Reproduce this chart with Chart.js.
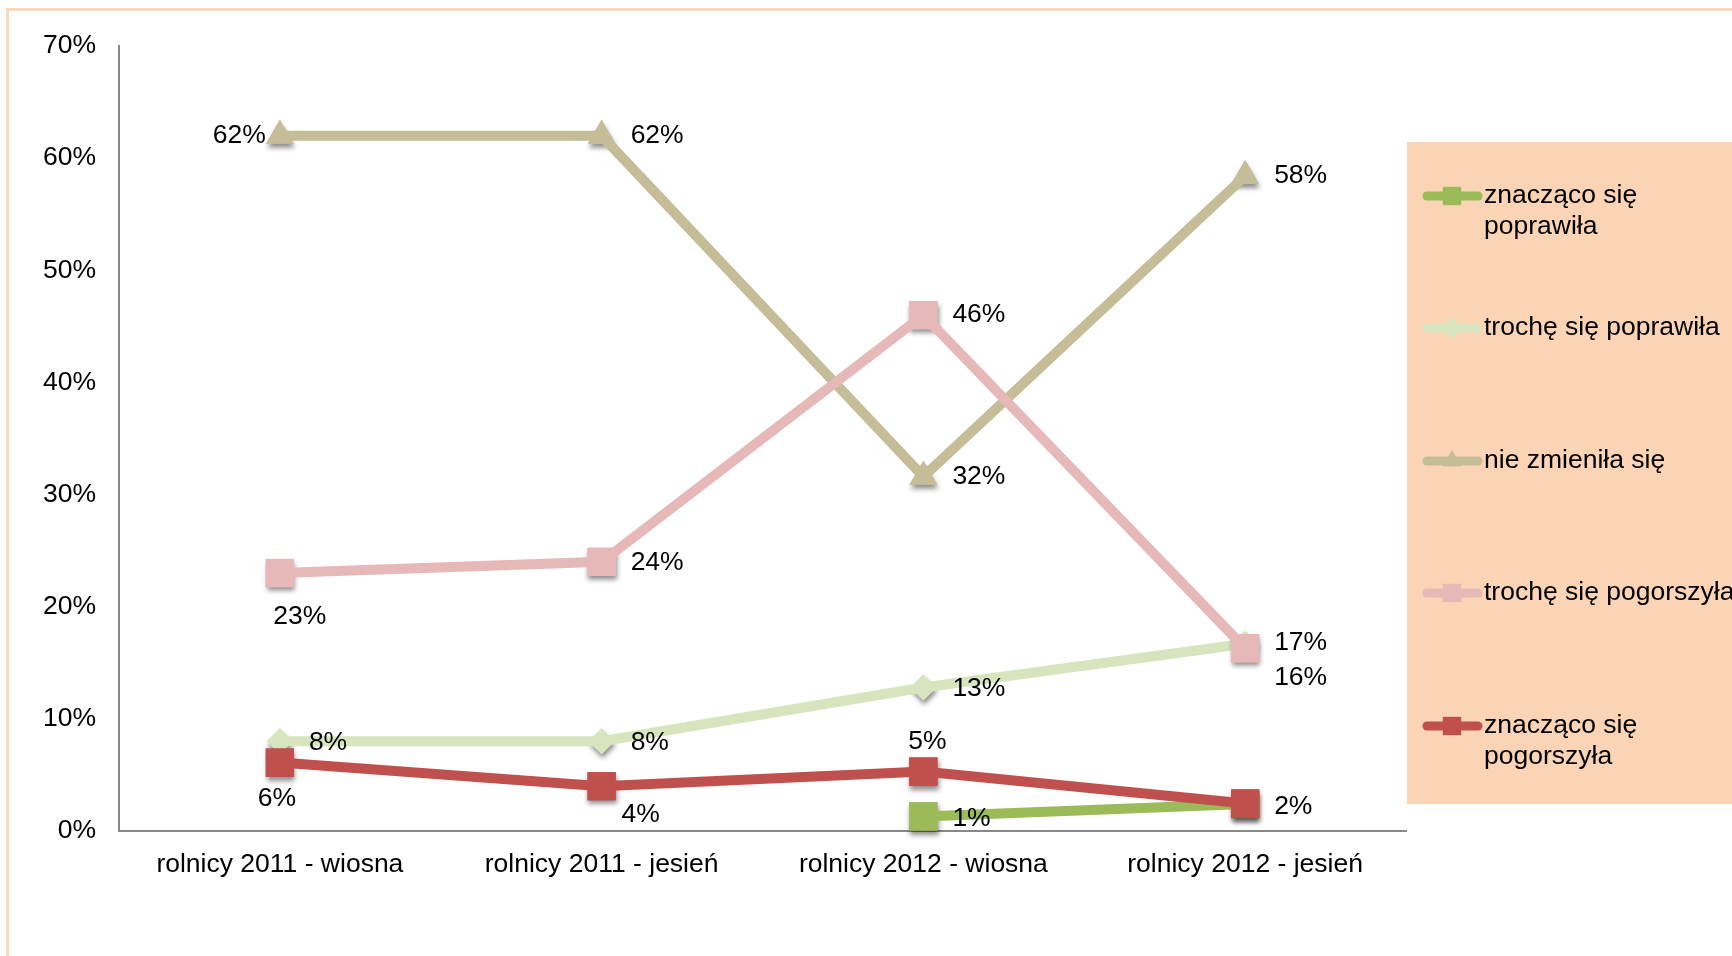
<!DOCTYPE html>
<html>
<head>
<meta charset="utf-8">
<script src="https://cdn.jsdelivr.net/npm/chart.js@4.4.0/dist/chart.umd.min.js"></script>
<style>
  html, body { margin: 0; padding: 0; background: #fff; overflow: hidden; }
  #wrap { position: relative; width: 1732px; height: 956px; }
  #frame { position: absolute; left: 6px; top: 8px; width: 1800px; height: 1000px; border: 3px solid #FCD9BC; box-sizing: border-box; }
  canvas { position: absolute; left: 0; top: 0; }
</style>
</head>
<body>
<div id="wrap">
  <div id="frame"></div>
  <canvas id="chart" width="1732" height="956"></canvas>
</div>
<script>
// Dane
var categories = ['rolnicy 2011 - wiosna', 'rolnicy 2011 - jesień', 'rolnicy 2012 - wiosna', 'rolnicy 2012 - jesień'];
var yTicks = [0, 10, 20, 30, 40, 50, 60, 70];

var seriesNames = ['znacząco się poprawiła', 'trochę się poprawiła', 'nie zmieniła się', 'trochę się pogorszyła', 'znacząco się pogorszyła'];
var znaczacoPoprawila = [null, null, 1.3, 2.4];
var trochePoprawila = [8, 8, 12.8, 16.7];
var nieZmienila = [62, 62, 31.6, 58.4];
var trochePogorszyla = [23, 24, 46, 16.3];
var znaczacoPogorszyla = [6.1, 4, 5.3, 2.45];

// Kolory i znaczniki
var colors = ['#9BBB59', '#D7E4BD', '#C4BD97', '#E6B9B8', '#C0504D'];
var markers = ['rect', 'rectRot', 'triangle', 'rect', 'rect'];
var markerSizes = [20, 13, 16, 20, 20];
var legendLines = [['znacząco się', 'poprawiła'], ['trochę się poprawiła'], ['nie zmieniła się'], ['trochę się pogorszyła'], ['znacząco się', 'pogorszyła']];

// Położenie etykiet danych: [dx, dy, wyrównanie] albo null
var labelPlacement = [
    [null, null, [29, 2, 'left'], null],
    [[29, 1, 'left'], [29, 1, 'left'], [29, 1, 'left'], [29, -1, 'left']],
    [[-14, 0, 'right'], [29, 0, 'left'], [29, 0, 'left'], [29, 0, 'left']],
    [[20, 44, 'center'], [29, 1, 'left'], [29, 0, 'left'], [29, 29, 'left']],
    [[-3, 36, 'center'], [39, 29, 'center'], [4, -30, 'center'], [29, 3, 'left']]
];

var FONT = "'Liberation Sans', Arial, sans-serif";
var FONT_SIZE = 26.5;
var seriesData = [znaczacoPoprawila, trochePoprawila, nieZmienila, trochePogorszyla, znaczacoPogorszyla];

var datasets = seriesData.map(function(values, i) {
    return {
        label: seriesNames[i],
        data: values,
        borderColor: colors[i],
        backgroundColor: colors[i],
        borderWidth: 10,
        pointStyle: markers[i],
        pointRadius: markerSizes[i],
        pointHoverRadius: markerSizes[i],
        pointBorderWidth: 0,
        tension: 0,
        spanGaps: false,
        order: 5 - i
    };
});

/**
 * Cień pod znacznikami (jak w Excelu)
 */
var markerShadow = {
    id: 'markerShadow',
    beforeDatasetDraw: function(chart, args) {
        var ctx = chart.ctx;
        var ds = chart.data.datasets[args.index];
        ctx.save();
        ctx.shadowColor = 'rgba(0,0,0,0.45)';
        ctx.shadowBlur = 5;
        ctx.shadowOffsetX = 1;
        ctx.shadowOffsetY = 4;
        ctx.fillStyle = ds.backgroundColor;
        args.meta.data.forEach(function(pt, j) {
            if (ds.data[j] === null) return;
            Chart.helpers.drawPoint(ctx, {pointStyle: ds.pointStyle, radius: ds.pointRadius, rotation: 0, borderWidth: 0}, pt.x, pt.y);
        });
        ctx.restore();
    }
};

/**
 * Etykiety danych przy punktach
 */
var dataLabels = {
    id: 'dataLabels',
    afterDatasetsDraw: function(chart) {
        var ctx = chart.ctx;
        ctx.save();
        ctx.fillStyle = '#000';
        ctx.font = FONT_SIZE + 'px ' + FONT;
        ctx.textBaseline = 'middle';
        chart.data.datasets.forEach(function(ds, i) {
            var meta = chart.getDatasetMeta(i);
            meta.data.forEach(function(pt, j) {
                var place = labelPlacement[i][j];
                if (ds.data[j] === null || !place) return;
                ctx.textAlign = place[2];
                ctx.fillText(Math.round(ds.data[j]) + '%', pt.x + place[0], pt.y + place[1]);
            });
        });
        ctx.restore();
    }
};

/**
 * Legenda z tłem po prawej stronie
 */
var sideLegend = {
    id: 'sideLegend',
    afterDraw: function(chart) {
        var ctx = chart.ctx;
        ctx.save();
        ctx.fillStyle = '#FAD4B4';
        ctx.fillRect(1407, 142, 330, 662);
        var rowY = [196, 328, 461, 593, 726];
        chart.data.datasets.forEach(function(ds, i) {
            var y = rowY[i];
            ctx.strokeStyle = ds.borderColor;
            ctx.lineWidth = 9;
            ctx.lineCap = 'round';
            ctx.beginPath();
            ctx.moveTo(1427, y);
            ctx.lineTo(1478, y);
            ctx.stroke();
            ctx.fillStyle = ds.borderColor;
            Chart.helpers.drawPoint(ctx, {pointStyle: ds.pointStyle, radius: ds.pointStyle === 'rect' ? 13 : 11, rotation: 0, borderWidth: 0}, 1452, y);
            ctx.fillStyle = '#000';
            ctx.font = FONT_SIZE + 'px ' + FONT;
            ctx.textAlign = 'left';
            ctx.textBaseline = 'middle';
            legendLines[i].forEach(function(line, k) {
                ctx.fillText(line, 1484, y + k * 31);
            });
        });
        ctx.restore();
    }
};

var chart = new Chart(document.getElementById('chart').getContext('2d'), {
    type: 'line',
    data: {
        labels: categories,
        datasets: datasets
    },
    options: {
        responsive: false,
        animation: false,
        events: [],
        layout: {
            padding: {left: 0, top: 46, right: 326, bottom: 0}
        },
        plugins: {
            legend: {display: false},
            tooltip: {enabled: false}
        },
        scales: {
            x: {
                offset: true,
                grid: {display: true, color: 'rgba(0,0,0,0)', drawTicks: false},
                border: {display: true, color: '#888888', width: 2},
                ticks: {color: '#000', font: {family: FONT, size: FONT_SIZE}, padding: 18, maxRotation: 0, autoSkip: false},
                afterFit: function(scale) { scale.height = 125; }
            },
            y: {
                min: 0,
                max: 70,
                afterBuildTicks: function(scale) {
                    scale.ticks = yTicks.map(function(v) { return {value: v}; });
                },
                grid: {display: true, color: 'rgba(0,0,0,0)', drawTicks: false},
                border: {display: true, color: '#888888', width: 2},
                ticks: {
                    color: '#000',
                    font: {family: FONT, size: FONT_SIZE},
                    padding: 23,
                    callback: function(v) { return v + '%'; }
                },
                afterFit: function(scale) { scale.width = 119; }
            }
        }
    },
    plugins: [markerShadow, dataLabels, sideLegend]
});
</script>
</body>
</html>
